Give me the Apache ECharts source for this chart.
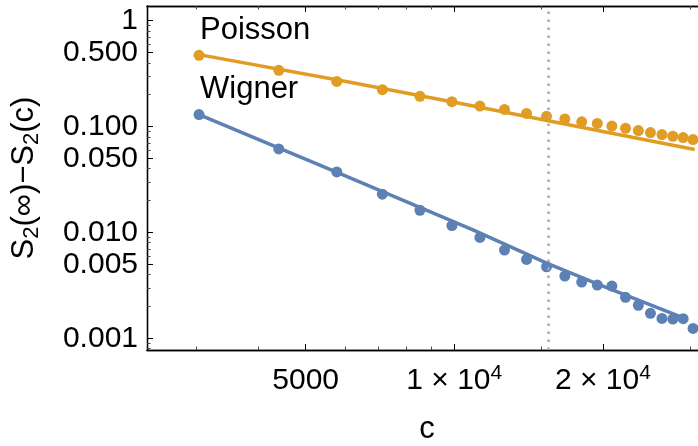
<!DOCTYPE html>
<html>
<head>
<meta charset="utf-8">
<script src="https://cdn.jsdelivr.net/npm/echarts@6/dist/echarts.min.js"></script>
<style>
  html, body { margin: 0; padding: 0; background: #fff; }
  #chart { width: 698px; height: 446px; }
</style>
</head>
<body>
<div id="chart"></div>
<script>
// c values of the data points
var cValues = [3040, 4410, 5780, 7150, 8520, 9890, 11270, 12640, 14010, 15380, 16750,
               18120, 19490, 20860, 22230, 23600, 24970, 26350, 27720, 29090, 30460];
var poissonValues = [0.471, 0.340, 0.267, 0.223, 0.193, 0.172, 0.156, 0.145, 0.133, 0.125, 0.118,
                     0.111, 0.107, 0.101, 0.0964, 0.0916, 0.0878, 0.0841, 0.0810, 0.0787, 0.0754];
var wignerValues = [0.1298, 0.0615, 0.0373, 0.0230, 0.0162, 0.0116, 0.00897, 0.00681, 0.00556, 0.00474, 0.00387,
                    0.00340, 0.00318, 0.00311, 0.00244, 0.00205, 0.00172, 0.00154, 0.00152, 0.00153, 0.00124];

// fitted lines, sampled along the drawn curves
var poissonFitC = [3040, 6150, 10000, 15500, 20000, 30700];
var poissonFitV = [0.478, 0.262, 0.170, 0.1135, 0.0897, 0.0607];
var wignerFitC = [3040, 5870, 10940, 15430, 19770, 28700];
var wignerFitV = [0.1298, 0.0360, 0.0105, 0.00510, 0.00318, 0.00160];

var dividerC = 15500;

var xMajorTicks = [5000, 10000, 20000];
var xMinorTicks = [3000, 4000, 6000, 7000, 8000, 9000, 15000, 30000];
var yMajorTicks = [0.001, 0.005, 0.01, 0.05, 0.1, 0.5, 1];
var yMinorTicks = [0.0008, 0.0009,
                   0.002, 0.003, 0.004, 0.006, 0.007, 0.008, 0.009,
                   0.02, 0.03, 0.04, 0.06, 0.07, 0.08, 0.09,
                   0.2, 0.3, 0.4, 0.6, 0.7, 0.8, 0.9];

var xRange = [2385, 32510];
var yRange = [0.000775, 1.377];

var blue = '#5E81B5';
var orange = '#E19C24';
var font = 'Liberation Sans, Arial, sans-serif';

function lg(v) { return Math.log10(v); }
function pairs(xs, ys) {
    var out = [];
    for (var i = 0; i < xs.length; i++) out.push([lg(xs[i]), lg(ys[i])]);
    return out;
}

function xLabel(v) {
    var n = Math.round(Math.pow(10, v));
    if (n < 10000) return '{a|' + n + '}';
    return '{a|' + Math.round(n / 10000) + ' \u00d7 10}{s|4}';
}
function yLabel(v) {
    var n = Math.pow(10, v);
    if (Math.abs(n - 1) < 1e-6) return '1';
    return n.toFixed(3);
}

function makeAxis(dim, pos, ticks, major, withLabels) {
    var range = dim == 'x' ? xRange : yRange;
    var ax = {
        type: 'value',
        position: pos,
        min: lg(range[0]),
        max: lg(range[1]),
        scale: true,
        splitLine: { show: false },
        axisLine: { show: true, onZero: false, lineStyle: { color: '#000', width: 1.3 } },
        axisTick: {
            show: true,
            inside: true,
            length: major ? 6 : 3.5,
            customValues: ticks.map(lg),
            lineStyle: { color: major ? '#000' : '#444', width: 1 }
        },
        axisLabel: { show: false }
    };
    if (withLabels) {
        ax.axisLabel = {
            show: true,
            customValues: ticks.map(lg),
            formatter: dim == 'x' ? xLabel : yLabel,
            color: '#000',
            fontFamily: font,
            fontSize: 30,
            margin: dim == 'x' ? 13 : 9
        };
        if (dim == 'x') {
            ax.axisLabel.rich = {
                a: { fontFamily: font, fontSize: 30, color: '#000', lineHeight: 35 },
                s: { fontFamily: font, fontSize: 21, color: '#000', lineHeight: 21, verticalAlign: 'top' }
            };
        }
    }
    return ax;
}

var xAxes = [
    makeAxis('x', 'bottom', xMajorTicks, true, true),
    makeAxis('x', 'bottom', xMinorTicks, false, false),
    makeAxis('x', 'top', xMajorTicks, true, false),
    makeAxis('x', 'top', xMinorTicks, false, false)
];
xAxes[0].name = 'c';
xAxes[0].nameLocation = 'middle';
xAxes[0].nameGap = 64;
xAxes[0].nameMoveOverlap = false;
xAxes[0].nameTextStyle = { fontFamily: font, fontSize: 31, color: '#000' };

var yAxes = [
    makeAxis('y', 'left', yMajorTicks, true, true),
    makeAxis('y', 'left', yMinorTicks, false, false),
    makeAxis('y', 'right', yMajorTicks, true, false),
    makeAxis('y', 'right', yMinorTicks, false, false)
];
yAxes[0].name = '{a|S}{b|2}{a|(\u221e)\u2212S}{b|2}{a|(c)}';
yAxes[0].nameLocation = 'middle';
yAxes[0].nameRotate = 90;
yAxes[0].nameGap = 104;
yAxes[0].nameMoveOverlap = false;
yAxes[0].nameTextStyle = {
    fontFamily: font, fontSize: 31, color: '#000',
    rich: {
        a: { fontFamily: font, fontSize: 31, color: '#000', lineHeight: 37 },
        b: { fontFamily: font, fontSize: 22, color: '#000', lineHeight: 22, verticalAlign: 'bottom' }
    }
};

var myChart = echarts.init(document.getElementById('chart'), null, { renderer: 'canvas' });

var option = {
    backgroundColor: '#fff',
    animation: false,
    grid: { left: 147, top: 6, width: 560, height: 344, containLabel: false, outerBoundsMode: 'none' },
    xAxis: xAxes,
    yAxis: yAxes,
    graphic: [
        { type: 'text', left: 200, top: 15, style: { text: 'Poisson', fontFamily: font, fontSize: 31, fill: '#000' } },
        { type: 'text', left: 200, top: 74, style: { text: 'Wigner', fontFamily: font, fontSize: 31, fill: '#000' } }
    ],
    series: [
        {
            name: 'Poisson fit', type: 'line', data: pairs(poissonFitC, poissonFitV),
            showSymbol: false, symbol: 'none', lineStyle: { color: orange, width: 3.5 }, z: 2,
            markLine: {
                silent: true, symbol: 'none', label: { show: false },
                lineStyle: { color: '#aaaaaa', type: [2.5, 5.5], width: 2.5 },
                data: [{ xAxis: lg(dividerC) }]
            }
        },
        {
            name: 'Wigner fit', type: 'line', data: pairs(wignerFitC, wignerFitV),
            showSymbol: false, symbol: 'none', lineStyle: { color: blue, width: 3.5 }, z: 2
        },
        {
            name: 'Poisson', type: 'scatter', data: pairs(cValues, poissonValues),
            symbol: 'circle', symbolSize: 11, itemStyle: { color: orange, opacity: 1 }, z: 3
        },
        {
            name: 'Wigner', type: 'scatter', data: pairs(cValues, wignerValues),
            symbol: 'circle', symbolSize: 11, itemStyle: { color: blue, opacity: 1 }, z: 3
        }
    ]
};

myChart.setOption(option);
</script>
</body>
</html>
